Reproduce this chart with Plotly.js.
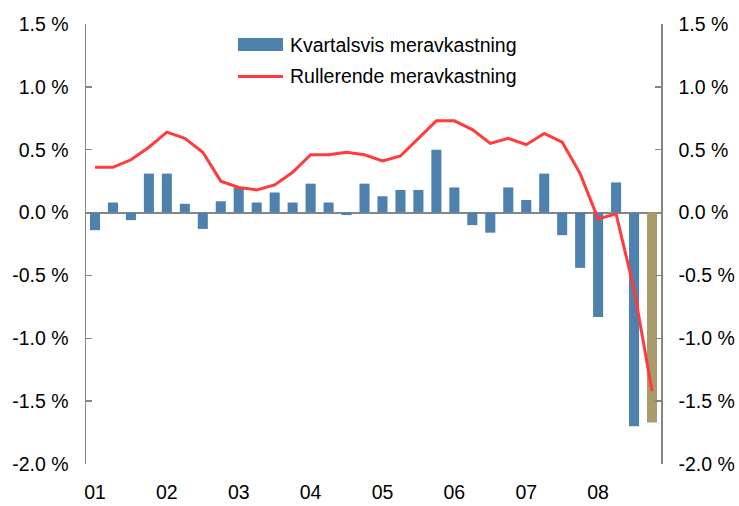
<!DOCTYPE html>
<html>
<head>
<meta charset="utf-8">
<script src="https://cdn.plot.ly/plotly-3.0.1.min.js"></script>
<style>
html,body{margin:0;padding:0;background:#fff;}
#chart{width:739px;height:506px;}
</style>
</head>
<body>
<div id="chart"></div>
<script>
// Quarters 2001 Q1 .. 2008 Q4
var quarters = [
  "2001K1","2001K2","2001K3","2001K4",
  "2002K1","2002K2","2002K3","2002K4",
  "2003K1","2003K2","2003K3","2003K4",
  "2004K1","2004K2","2004K3","2004K4",
  "2005K1","2005K2","2005K3","2005K4",
  "2006K1","2006K2","2006K3","2006K4",
  "2007K1","2007K2","2007K3","2007K4",
  "2008K1","2008K2","2008K3","2008K4"
];
// Quarterly excess return (%)
var kvartalsvis = [
  -0.14, 0.08, -0.06, 0.31,
   0.31, 0.07, -0.13, 0.09,
   0.20, 0.08, 0.16, 0.08,
   0.23, 0.08, -0.02, 0.23,
   0.13, 0.18, 0.18, 0.50,
   0.20, -0.10, -0.16, 0.20,
   0.10, 0.31, -0.18, -0.44,
  -0.83, 0.24, -1.70, -1.67
];
// Rolling excess return (%)
var rullerende = [
   0.36, 0.36, 0.42, 0.52,
   0.64, 0.59, 0.48, 0.25,
   0.20, 0.18, 0.22, 0.32,
   0.46, 0.46, 0.48, 0.46,
   0.41, 0.45, 0.59, 0.73,
   0.73, 0.66, 0.55, 0.59,
   0.54, 0.63, 0.56, 0.31,
  -0.05, -0.01, -0.61, -1.42
];
// Which quarters are highlighted (last quarter in a different colour)
var highlighted = [
  0,0,0,0, 0,0,0,0, 0,0,0,0, 0,0,0,0,
  0,0,0,0, 0,0,0,0, 0,0,0,0, 0,0,0,1
];
var xTickVals = ["2001K1","2002K1","2003K1","2004K1","2005K1","2006K1","2007K1","2008K1"];
var xTickText = ["01","02","03","04","05","06","07","08"];
var yTickVals = [-2.0, -1.5, -1.0, -0.5, 0.0, 0.5, 1.0, 1.5];
var yTickText = ["-2.0 %","-1.5 %","-1.0 %","-0.5 %","0.0 %","0.5 %","1.0 %","1.5 %"];
var seriesNames = ["Kvartalsvis meravkastning", "Rullerende meravkastning"];

var BLUE = "#4F81AF", TAN = "#A99B6C", RED = "#FF3B3B", AXIS = "#868686";
var FONT = "Liberation Sans, Arial, sans-serif";

var barColors = highlighted.map(function(h){ return h ? TAN : BLUE; });

var traces = [
  {
    type: "bar", x: quarters, y: kvartalsvis, name: seriesNames[0],
    marker: {color: barColors, line: {width: 0}},
    yaxis: "y", showlegend: false, hoverinfo: "x+y"
  },
  {
    type: "scatter", mode: "lines", x: quarters, y: rullerende, name: seriesNames[1],
    line: {color: RED, width: 3},
    yaxis: "y2", showlegend: false
  }
];

var yCommon = {
  range: [-2.0, 1.5],
  tickmode: "array", tickvals: yTickVals, ticktext: yTickText,
  showline: true, linecolor: AXIS, linewidth: 1.5,
  ticks: "inside", ticklen: 6, tickwidth: 1.5, tickcolor: AXIS,
  showgrid: false, zeroline: false,
  tickfont: {family: FONT, size: 19.5, color: "#000"},
  ticklabelstandoff: 12, fixedrange: true
};

var y1 = Object.assign({}, yCommon, {side: "left", zeroline: true, zerolinecolor: AXIS, zerolinewidth: 2});
var y2 = Object.assign({}, yCommon, {side: "right", overlaying: "y"});

var LX0 = 0.2643, LX1 = 0.3426;
var layout = {
  width: 739, height: 506,
  margin: {l: 86, r: 78, t: 24, b: 42},
  paper_bgcolor: "#fff", plot_bgcolor: "#fff",
  bargap: 0.44,
  showlegend: false,
  xaxis: {
    type: "category", categoryorder: "array", categoryarray: quarters,
    tickmode: "array", tickvals: xTickVals, ticktext: xTickText,
    showline: false, ticks: "", showgrid: false, zeroline: false,
    tickfont: {family: FONT, size: 19.5, color: "#000"},
    tickangle: 0, ticklabelstandoff: 14, fixedrange: true
  },
  yaxis: y1,
  yaxis2: y2,
  shapes: [
    {type: "rect", xref: "paper", yref: "paper", x0: LX0, x1: LX1, y0: 0.9386, y1: 0.9682,
     fillcolor: BLUE, line: {width: 0}},
    {type: "line", xref: "paper", yref: "paper", x0: LX0, x1: LX1, y0: 0.8807, y1: 0.8807,
     line: {color: RED, width: 3}}
  ],
  annotations: [
    {xref: "paper", yref: "paper", x: 0.3513, y: 0.9534, xanchor: "left", yanchor: "middle",
     text: seriesNames[0], showarrow: false, font: {family: FONT, size: 19.5, color: "#000"}},
    {xref: "paper", yref: "paper", x: 0.3513, y: 0.8807, xanchor: "left", yanchor: "middle",
     text: seriesNames[1], showarrow: false, font: {family: FONT, size: 19.5, color: "#000"}}
  ]
};

Plotly.newPlot("chart", traces, layout, {displayModeBar: false, staticPlot: true});
</script>
</body>
</html>
